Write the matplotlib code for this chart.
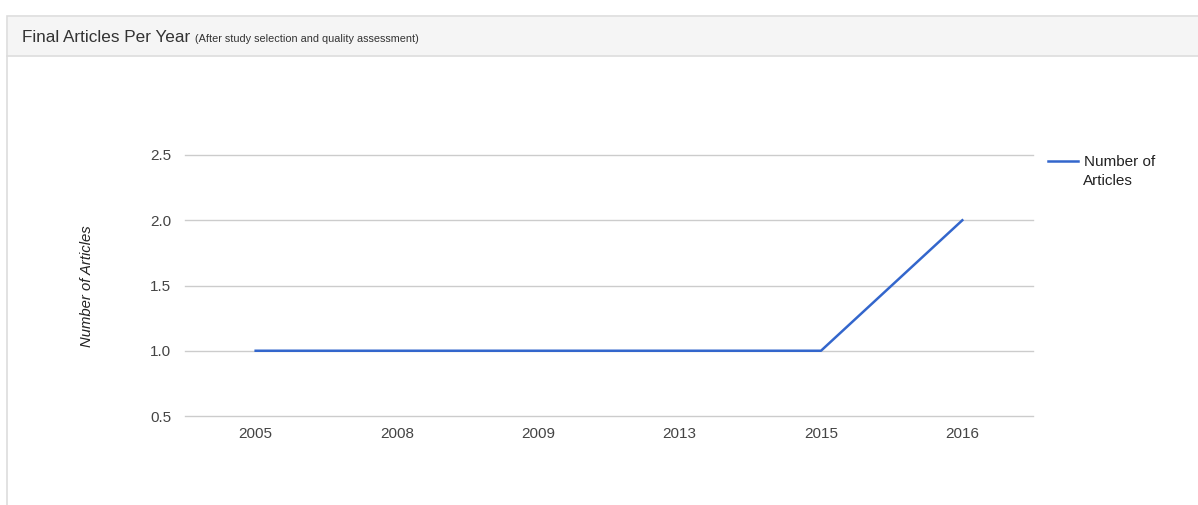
import matplotlib.pyplot as plt
from matplotlib.patches import Rectangle

years = ["2005", "2008", "2009", "2013", "2015", "2016"]
articles = [1, 1, 1, 1, 1, 2]
y_ticks = [0.5, 1.0, 1.5, 2.0, 2.5]

W, H = 1198, 505
plt.rcParams["font.family"] = ["Liberation Sans", "DejaVu Sans"]

fig = plt.figure(figsize=(W / 100, H / 100), dpi=100)

def fx(px):
  return px / W

def fy(py):
  return 1 - py / H

# パネル枠とヘッダー
fig.patches.append(Rectangle((fx(7), fy(520)), fx(1210) - fx(7), fy(16) - fy(520),
                             transform=fig.transFigure, facecolor="white",
                             edgecolor="#dddddd", linewidth=1.2, zorder=0))
fig.patches.append(Rectangle((fx(7.6), fy(56)), fx(1210) - fx(7.6), fy(16.6) - fy(56),
                             transform=fig.transFigure, facecolor="#f5f5f5",
                             edgecolor="none", zorder=1))
fig.lines.append(plt.Line2D([fx(7), fx(1198)], [fy(56), fy(56)],
                            transform=fig.transFigure, color="#dddddd", linewidth=1.2, zorder=2))

fig.text(fx(22), fy(37), "Final Articles Per Year", fontsize=12.3, color="#333333",
         va="center", ha="left", zorder=3)
fig.text(fx(195), fy(39.5), "(After study selection and quality assessment)", fontsize=7.8,
         color="#333333", va="center", ha="left", zorder=3)

ax = fig.add_axes([fx(185), fy(416), fx(1033) - fx(185), fy(155) - fy(416)])
ax.set_zorder(5)
x = list(range(len(years)))
ax.plot(x, articles, color="#3366cc", linewidth=1.8, label="Number of", zorder=3)

ax.set_xlim(-0.5, len(years) - 0.5)
ax.set_ylim(0.5, 2.5)
ax.set_yticks(y_ticks)
ax.set_yticklabels([f"{v:.1f}" for v in y_ticks])
ax.set_xticks(x)
ax.set_xticklabels(years)
ax.tick_params(length=0, labelsize=11, labelcolor="#444444")
ax.tick_params(axis="y", pad=10)
ax.tick_params(axis="x", pad=8)
ax.grid(axis="y", color="#cccccc", linewidth=1)
for g in ax.get_ygridlines():
  g.set_clip_on(False)
for s in ax.spines.values():
  s.set_visible(False)
ax.set_facecolor("none")

fig.text(fx(87), fy(286), "Number of Articles", fontsize=10.7, style="italic", color="#222222",
         rotation=90, ha="center", va="center", zorder=6)

# 凡例（2行目は別テキスト）
ax.legend(loc="center left", bbox_to_anchor=(1.0065, (416 - 162) / 261), frameon=False,
          fontsize=11, handlelength=2.0, handletextpad=0.35, labelcolor="#222222",
          borderaxespad=0, borderpad=0.6)
ax.text((1083 - 185) / 848, (416 - 181) / 261, "Articles", transform=ax.transAxes,
        fontsize=11, color="#222222", ha="left", va="center", clip_on=False)

plt.savefig("out.png", dpi=100)
